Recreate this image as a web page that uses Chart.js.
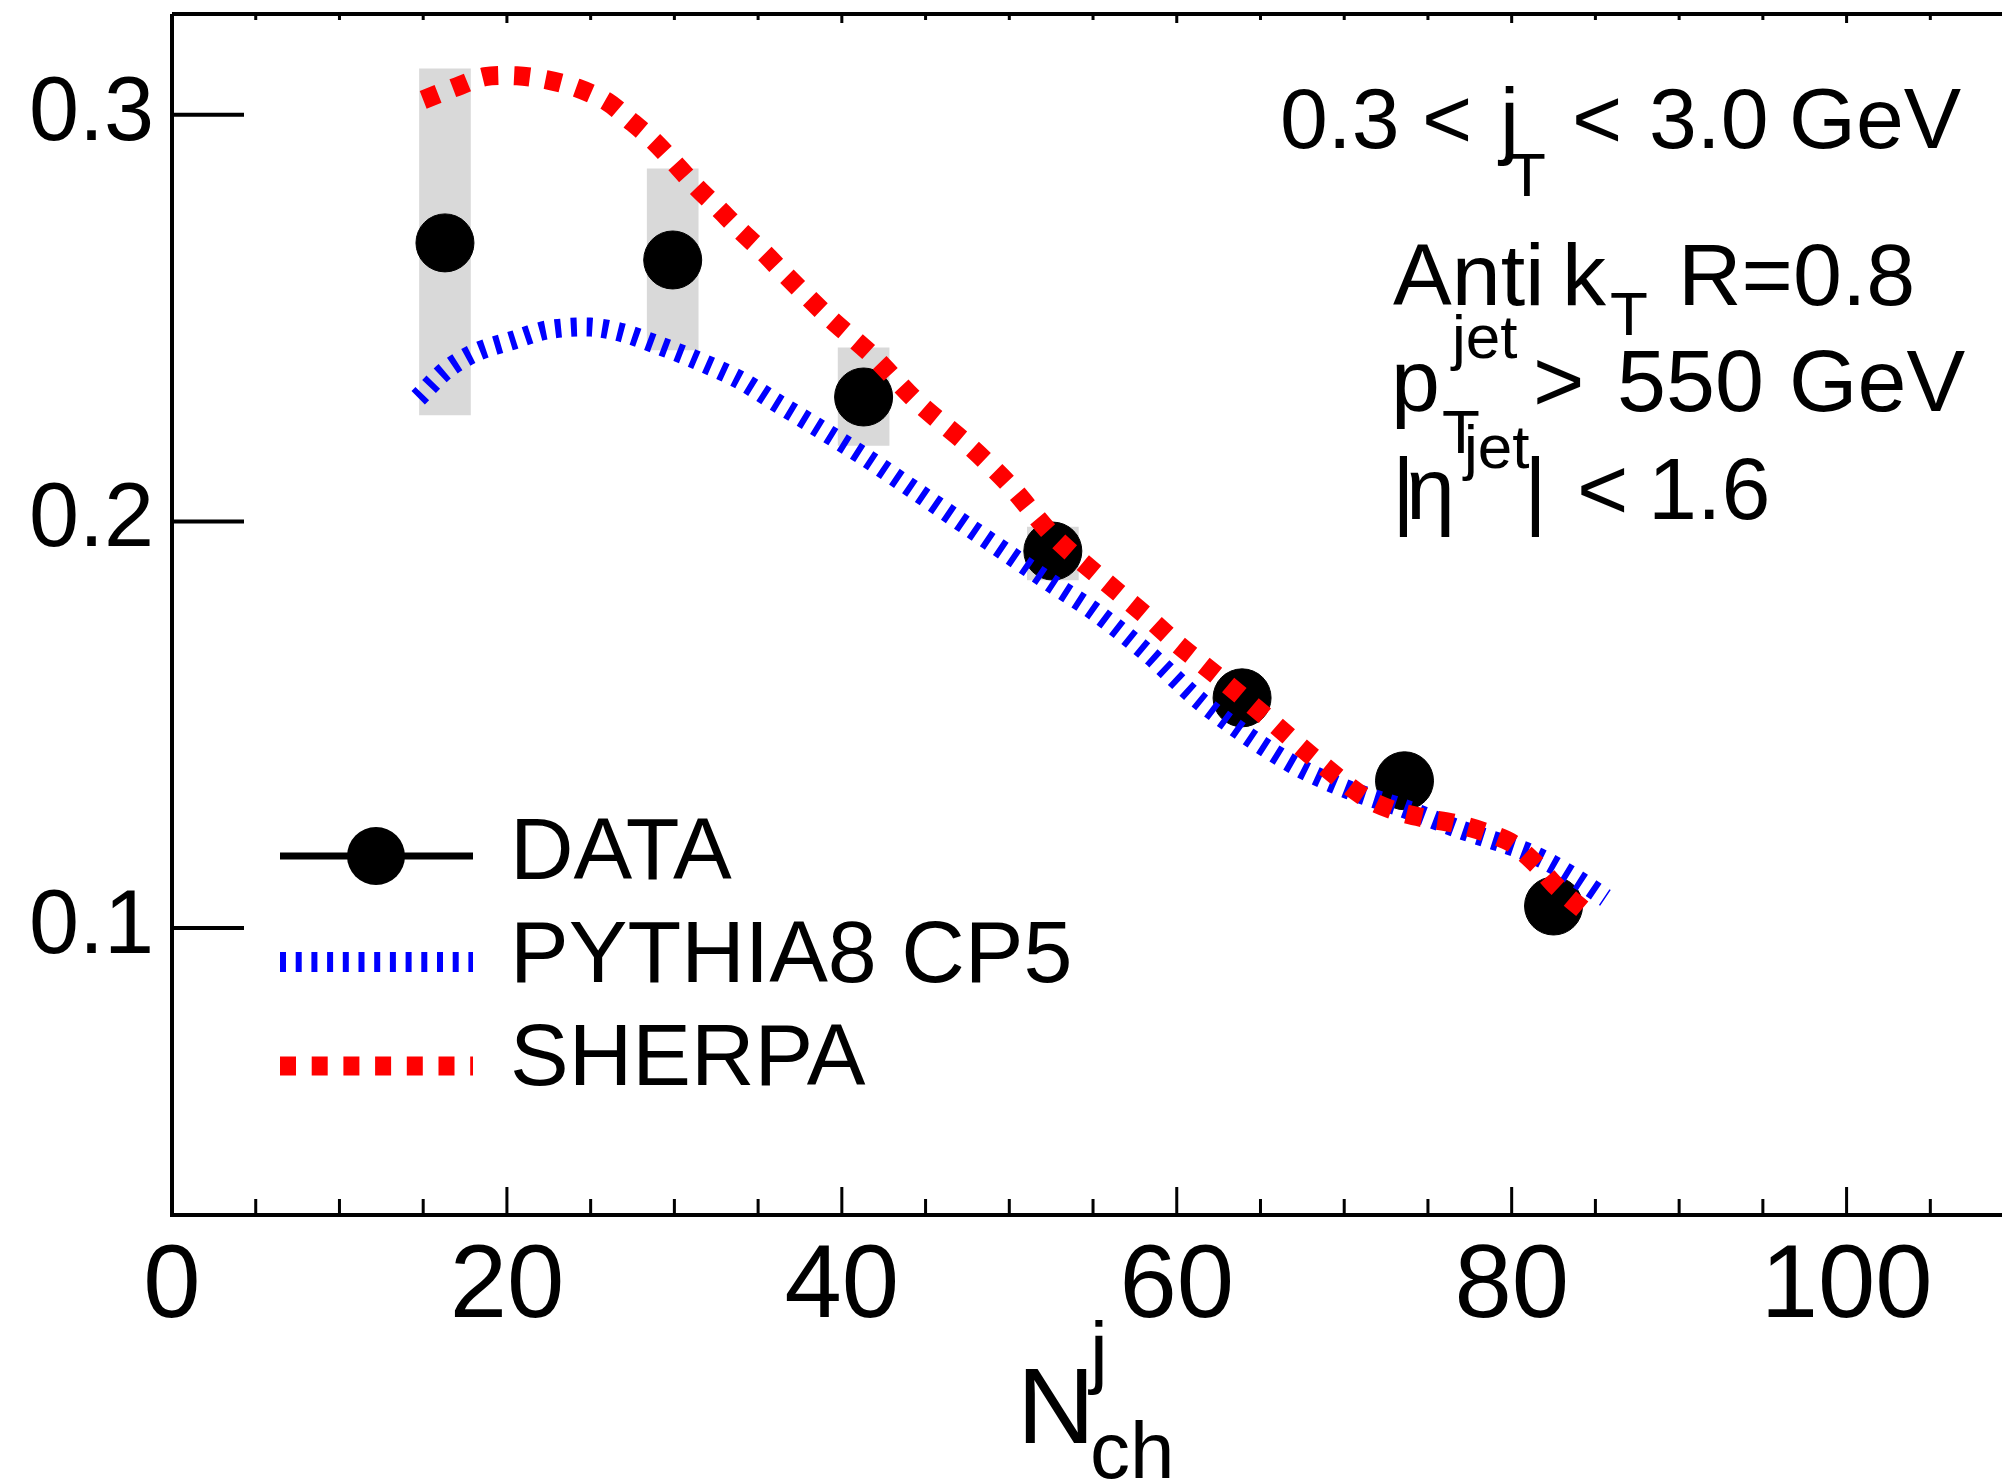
<!DOCTYPE html>
<html>
<head>
<meta charset="utf-8">
<script src="https://cdn.jsdelivr.net/npm/chart.js@4.4.0/dist/chart.umd.min.js"></script>
<style>
  html, body { margin: 0; padding: 0; background: #fff; }
</style>
</head>
<body>
<canvas id="myChart" width="2002" height="1481"></canvas>
<script>
// measured data points (N_ch^j, value)
const dataN = [16.3, 29.9, 41.3, 52.6, 63.9, 73.6, 82.5];
const dataY = [0.2685, 0.2643, 0.2306, 0.1927, 0.1566, 0.1362, 0.1054];
// systematic band (grey boxes)
const sysLo = [0.2262, 0.2422, 0.2187, 0.1856, 0.1536, 0.1332, 0.1024];
const sysHi = [0.3113, 0.2867, 0.2427, 0.1986, 0.1596, 0.1392, 0.1084];

const pythiaN = [14.7, 16.4, 18.2, 20.4, 22.4, 25.0, 26.9, 29.0, 31.3, 33.9, 36.1, 38.4, 41.5, 44.5, 47.6, 50.0,
  52.5, 55.2, 58.3, 61.3, 64.3, 67.3, 70.3, 73.5, 77.0, 80.6, 82.2, 84.0, 85.6];
const pythiaY = [0.2304, 0.2373, 0.2417, 0.2446, 0.2471, 0.2478, 0.2464, 0.2434, 0.2397, 0.2348, 0.2292, 0.2235,
  0.2155, 0.2072, 0.1985, 0.1918, 0.1848, 0.1775, 0.1674, 0.1561, 0.1470, 0.1394, 0.1339, 0.1295, 0.1241,
  0.1192, 0.1162, 0.1118, 0.1074];

const sherpaN = [15.0, 17.0, 18.7, 20.6, 22.4, 24.2, 26.0, 27.3, 28.7, 30.0, 31.3, 32.6, 33.9, 35.3, 36.5, 39.2,
  41.9, 44.5, 47.6, 50.0, 52.6, 55.5, 58.2, 60.0, 62.5, 65.4, 68.2, 71.2, 72.9, 74.7, 76.5, 78.4, 80.0, 81.5,
  82.7, 84.5];
const sherpaY = [0.3037, 0.3069, 0.3094, 0.3096, 0.3086, 0.3066, 0.3032, 0.2988, 0.2938, 0.2882, 0.2823, 0.2771,
  0.2717, 0.2663, 0.2612, 0.2503, 0.2405, 0.2294, 0.2186, 0.2090, 0.1965, 0.1860, 0.1767, 0.1700, 0.1617,
  0.1517, 0.1418, 0.1322, 0.1290, 0.1271, 0.1258, 0.1236, 0.1209, 0.1155, 0.1101, 0.1037];

const xTicks = [0, 20, 40, 60, 80, 100];
const xMinor = [5, 10, 15, 25, 30, 35, 45, 50, 55, 65, 70, 75, 85, 90, 95, 105];
const yTicks = [0.1, 0.2, 0.3];

const FONT = "'Liberation Sans', Arial, Helvetica, sans-serif";

function pts(xs, ys) {
  const out = [];
  for (let i = 0; i < xs.length; i++) out.push({ x: xs[i], y: ys[i] });
  return out;
}

const boxes = [];
for (let i = 0; i < dataN.length; i++) {
  boxes.push({ x: dataN[i], y: [sysLo[i], sysHi[i]] });
}

function txt(ctx, s, x, y, size) {
  ctx.font = size + "px " + FONT;
  ctx.fillText(s, x, y);
}

// no extra padding from tick labels, chart area is set by hand
function noPad(scale) {
  scale.paddingTop = 0;
  scale.paddingBottom = 0;
  scale.paddingLeft = 0;
  scale.paddingRight = 0;
}

const rootStyle = {
  id: "rootStyle",
  afterDraw(chart) {
    const ctx = chart.ctx;
    const a = chart.chartArea;
    const xs = chart.scales.x;
    const ys = chart.scales.y;
    ctx.save();
    ctx.strokeStyle = "#000";
    ctx.fillStyle = "#000";
    ctx.lineWidth = 4;
    ctx.lineCap = "butt";

    // frame
    ctx.beginPath();
    ctx.moveTo(a.left, a.top);
    ctx.lineTo(a.left, a.bottom);
    ctx.lineTo(a.right, a.bottom);
    ctx.moveTo(a.left, a.top);
    ctx.lineTo(a.right, a.top);
    ctx.stroke();

    // ticks
    ctx.lineWidth = 3;
    ctx.beginPath();
    for (const v of xTicks) {
      const px = xs.getPixelForValue(v);
      ctx.moveTo(px, a.bottom); ctx.lineTo(px, a.bottom - 28);
      ctx.moveTo(px, a.top); ctx.lineTo(px, a.top + 9);
    }
    for (const v of xMinor) {
      const px = xs.getPixelForValue(v);
      ctx.moveTo(px, a.bottom); ctx.lineTo(px, a.bottom - 16);
      ctx.moveTo(px, a.top); ctx.lineTo(px, a.top + 6);
    }
    ctx.stroke();
    ctx.lineWidth = 4;
    ctx.beginPath();
    for (const v of yTicks) {
      const py = ys.getPixelForValue(v);
      ctx.moveTo(a.left, py); ctx.lineTo(a.left + 72, py);
    }
    ctx.stroke();

    // legend
    ctx.lineWidth = 7;
    ctx.beginPath();
    ctx.moveTo(280, 856); ctx.lineTo(473, 856);
    ctx.stroke();
    ctx.beginPath();
    ctx.arc(376, 856, 29, 0, Math.PI * 2);
    ctx.fill();

    ctx.lineWidth = 20;
    ctx.strokeStyle = "#0000ff";
    ctx.setLineDash([6, 9.7]);
    ctx.beginPath();
    ctx.moveTo(280, 962); ctx.lineTo(473, 962);
    ctx.stroke();

    ctx.lineWidth = 19;
    ctx.strokeStyle = "#ff0000";
    ctx.setLineDash([16, 15.7]);
    ctx.beginPath();
    ctx.moveTo(280, 1066); ctx.lineTo(473, 1066);
    ctx.stroke();
    ctx.setLineDash([]);

    ctx.textAlign = "left";
    ctx.textBaseline = "alphabetic";
    txt(ctx, "DATA", 510, 879, 88);
    txt(ctx, "PYTHIA8 CP5", 510, 982, 88);
    txt(ctx, "SHERPA", 510, 1085, 88);

    // annotation text
    txt(ctx, "0.3", 1280, 148, 86);
    txt(ctx, "<", 1422, 148, 86);
    txt(ctx, "j", 1500, 148, 86);
    txt(ctx, "T", 1508, 196, 62);
    txt(ctx, "<", 1572, 148, 86);
    txt(ctx, "3.0", 1649, 148, 86);
    txt(ctx, "GeV", 1789, 148, 86);

    txt(ctx, "Anti", 1393, 305, 88);
    txt(ctx, "k", 1562, 305, 88);
    txt(ctx, "T", 1610, 335, 62);
    txt(ctx, "R=0.8", 1678, 305, 88);

    txt(ctx, "p", 1391, 411, 88);
    txt(ctx, "jet", 1452, 358, 62);
    txt(ctx, "T", 1442, 453, 62);
    txt(ctx, ">", 1533, 411, 88);
    txt(ctx, "550", 1617, 411, 88);
    txt(ctx, "GeV", 1789, 411, 88);

    txt(ctx, "|", 1392, 519, 88);
    txt(ctx, "\u03b7", 1406, 519, 88);
    txt(ctx, "jet", 1464, 468, 62);
    txt(ctx, "|", 1524, 519, 88);
    txt(ctx, "<", 1577, 519, 88);
    txt(ctx, "1.6", 1648, 519, 88);

    // x axis title
    txt(ctx, "N", 1017, 1443, 108);
    txt(ctx, "j", 1090, 1378, 80);
    txt(ctx, "ch", 1090, 1478, 80);
    ctx.restore();
  }
};

const ctx = document.getElementById("myChart");

new Chart(ctx, {
  type: "scatter",
  data: {
    datasets: [
      {
        type: "line",
        label: "SHERPA",
        data: pts(sherpaN, sherpaY),
        borderColor: "#ff0000",
        borderWidth: 19,
        borderDash: [16, 15.7],
        borderCapStyle: "butt",
        pointRadius: 0,
        tension: 0.3,
        fill: false,
        order: 0,
      },
      {
        type: "line",
        label: "PYTHIA8 CP5",
        data: pts(pythiaN, pythiaY),
        borderColor: "#0000ff",
        borderWidth: 19,
        borderDash: [6, 9.7],
        borderCapStyle: "butt",
        pointRadius: 0,
        tension: 0.3,
        fill: false,
        order: 1,
      },
      {
        type: "scatter",
        label: "DATA",
        data: pts(dataN, dataY),
        backgroundColor: "#000",
        borderColor: "#000",
        pointRadius: 29,
        pointHoverRadius: 29,
        order: 2,
      },
      {
        type: "bar",
        label: "sys",
        data: boxes,
        backgroundColor: "#d9d9d9",
        borderWidth: 0,
        barThickness: 51,
        order: 3,
      },
    ],
  },
  options: {
    responsive: false,
    devicePixelRatio: 1,
    animation: false,
    events: [],
    layout: { autoPadding: false, padding: { top: 14, right: 0, left: 0, bottom: 0 } },
    plugins: {
      legend: { display: false },
      tooltip: { enabled: false },
    },
    scales: {
      x: {
        type: "linear",
        min: 0,
        max: 109.28,
        offset: false,
        grid: { display: false, drawTicks: false, tickLength: 0 },
        border: { display: false },
        afterFit(scale) { scale.height = 266; noPad(scale); },
        afterBuildTicks(scale) { scale.ticks = xTicks.map(v => ({ value: v })); },
        ticks: {
          padding: 12,
          color: "#000",
          font: { family: FONT, size: 103 },
          maxRotation: 0,
          autoSkip: false,
          callback: v => String(v),
        },
      },
      y: {
        type: "linear",
        min: 0.0294,
        max: 0.3248,
        grid: { display: false, drawTicks: false, tickLength: 0 },
        border: { display: false },
        afterFit(scale) { scale.width = 172; noPad(scale); },
        afterBuildTicks(scale) { scale.ticks = yTicks.map(v => ({ value: v })); },
        ticks: {
          padding: 18,
          color: "#000",
          font: { family: FONT, size: 90 },
          autoSkip: false,
          callback: v => v.toFixed(1),
        },
      },
    },
  },
  plugins: [rootStyle],
});
</script>
</body>
</html>
